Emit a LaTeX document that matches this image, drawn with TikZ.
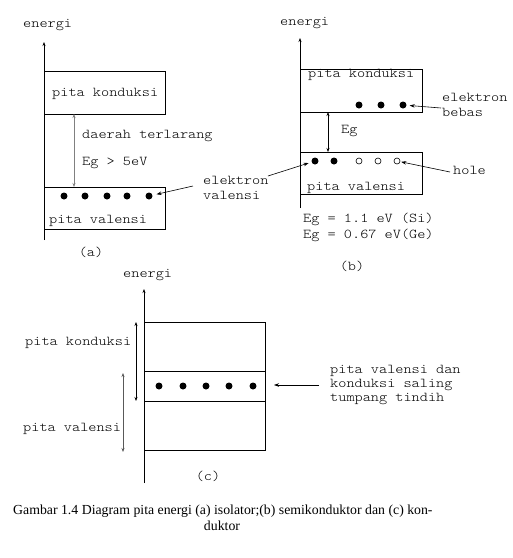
\documentclass[tikz,border=0pt]{standalone}
\usepackage{fontspec}
\setmainfont{Liberation Serif}
\newfontfamily\monof[FakeStretch=1.15]{Latin Modern Mono Light}
\usetikzlibrary{arrows.meta}
\begin{document}
\begin{tikzpicture}[x=1pt,y=-1pt,
  lbl/.style={font=\monof\fontsize{13.5}{14}\selectfont, anchor=mid west, inner sep=0pt},
  lblc/.style={font=\monof\fontsize{13.5}{14}\selectfont, anchor=mid, inner sep=0pt},
  band/.style={draw, line width=0.8pt, anchor=north west, inner sep=0pt},
  dot/.style={circle, fill, inner sep=0pt, minimum size=7pt},
  hole/.style={circle, draw, line width=0.6pt, inner sep=0pt, minimum size=6pt},
  axis/.style={line width=0.8pt, -{Stealth[length=4pt,width=3pt]}},
  ptr/.style={line width=0.6pt, -{Stealth[length=5pt,width=3.5pt]}},
  gap/.style={line width=0.8pt, {Stealth[length=4pt,width=3pt]}-{Stealth[length=4pt,width=3pt]}},
]
\useasboundingbox[fill=white] (0,0) rectangle (513,558);

% ---------------- (a) isolator ----------------
\node[lbl] (aen) at (23,25) {energi};
\coordinate (a0) at (44,240);
\coordinate (a1) at (44,42);
\draw[axis] (a0) -- (a1);
\node[band, minimum width=121pt, minimum height=43pt] (acb) at (44,71) {};
\node[band, minimum width=121pt, minimum height=42pt] (avb) at (44,187) {};
\node[lbl] (acbt) at (52,94) {pita konduksi};
\node[lbl] (avbt) at (49,221) {pita valensi};
\coordinate (ag1) at (74,114);
\coordinate (ag2) at (74,187);
\draw[gap, gray] (ag1) -- (ag2);
\node[lbl] (adt) at (82,136) {daerah terlarang};
\node[lbl] (aeg) at (82,163) {Eg > 5eV};
\foreach \i/\x in {1/64,2/85,3/107,4/127,5/149}
  \node[dot] (ad\i) at (\x,196) {};
\node[lbl] (ev1) at (203,182) {elektron};
\node[lbl] (ev2) at (203,197) {valensi};
\node[lblc] (acap) at (91,254) {(a)};
\coordinate (evA) at (193,186);
\coordinate (evB) at (268,176);
\draw[ptr, shorten >=4pt] (evA) -- (ad5);

% ---------------- (b) semikonduktor ----------------
\node[lbl] (ben) at (280,23) {energi};
\coordinate (b0) at (300,208);
\coordinate (b1) at (300,38);
\draw[axis] (b0) -- (b1);
\node[band, minimum width=122pt, minimum height=43pt] (bcb) at (300,69) {};
\node[band, minimum width=122pt, minimum height=42pt] (bvb) at (300,152) {};
\node[lbl] (bcbt) at (308,75) {pita konduksi};
\node[lbl] (bvbt) at (307,188) {pita valensi};
\foreach \i/\x in {1/359,2/381,3/403}
  \node[dot] (bc\i) at (\x,105) {};
\node[lbl] (beb1) at (442,99) {elektron};
\node[lbl] (beb2) at (442,114) {bebas};
\coordinate (bebA) at (441,108);
\draw[ptr, shorten >=3pt] (bebA) -- (bc3);
\coordinate (bg1) at (328,112);
\coordinate (bg2) at (328,152);
\draw[gap] (bg1) -- (bg2);
\node[lbl] (beg) at (341,131) {Eg};
\node[dot] (bv1) at (315,161) {};
\node[dot] (bv2) at (334,161) {};
\node[hole] (bh1) at (359,161) {};
\node[hole] (bh2) at (378,161) {};
\node[hole] (bh3) at (397,161) {};
\node[lbl] (bhole) at (453,172) {hole};
\coordinate (bhA) at (450,172);
\draw[ptr, shorten >=1pt] (bhA) -- (bh3);
\draw[ptr, shorten >=3pt] (evB) -- (bv1);
\node[lbl] (beg1) at (303,220) {Eg = 1.1 eV (Si)};
\node[lbl] (beg2) at (303,236) {Eg = 0.67 eV(Ge)};
\node[lblc] (bcap) at (352,268) {(b)};

% ---------------- (c) konduktor ----------------
\node[lbl] (cen) at (123,275) {energi};
\coordinate (c0) at (144,483);
\coordinate (c1) at (144,289);
\draw[axis] (c0) -- (c1);
\node[band, minimum width=121pt, minimum height=128pt] (cbox) at (144,322) {};
\coordinate (cl1a) at (144,371);
\coordinate (cl1b) at (265,371);
\coordinate (cl2a) at (144,401);
\coordinate (cl2b) at (265,401);
\draw[line width=0.8pt] (cl1a) -- (cl1b);
\draw[line width=0.8pt] (cl2a) -- (cl2b);
\foreach \i/\x in {1/159,2/183,3/206,4/229,5/253}
  \node[dot] (cd\i) at (\x,386) {};
\coordinate (ck1) at (136,322);
\coordinate (ck2) at (136,401);
\draw[gap] (ck1) -- (ck2);
\coordinate (cv1) at (123,373);
\coordinate (cv2) at (123,452);
\draw[gap, gray!70!black] (cv1) -- (cv2);
\node[lbl] (ckt) at (25,343) {pita konduksi};
\node[lbl] (cvt) at (23,429) {pita valensi};
\node[lbl] (ct1) at (330,371) {pita valensi dan};
\node[lbl] (ct2) at (330,385) {konduksi saling};
\node[lbl] (ct3) at (330,399) {tumpang tindih};
\coordinate (cpA) at (319,385);
\coordinate (cpB) at (274,385);
\draw[ptr] (cpA) -- (cpB);
\node[lblc] (ccap) at (208,478) {(c)};

% ---------------- caption ----------------
\node[anchor=mid west, inner sep=0pt, font=\fontsize{13.8}{14}\selectfont] (cap1) at (13,512)
  {Gambar 1.4 Diagram pita energi (a) isolator;(b) semikonduktor dan (c) kon-};
\node[anchor=mid, inner sep=0pt, font=\fontsize{13.8}{14}\selectfont] (cap2) at (222,528) {duktor};
\end{tikzpicture}
\end{document}
